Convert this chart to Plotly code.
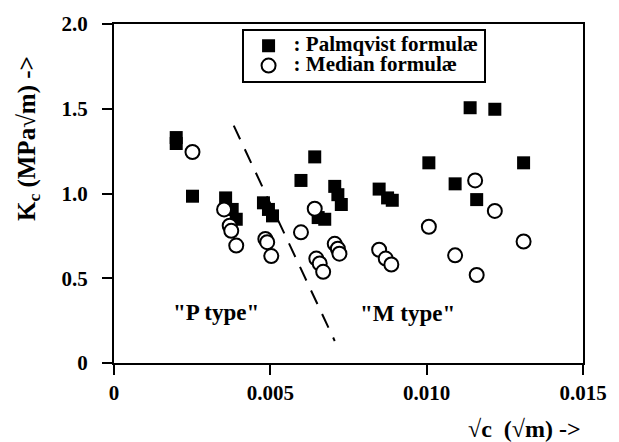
import plotly.graph_objects as go

# Palmqvist formulae (filled squares)
palm_x = [0.00199, 0.00199, 0.00251, 0.00357, 0.00378, 0.00391, 0.00478, 0.00494, 0.00507,
          0.00598, 0.00642, 0.00653, 0.00674, 0.00706, 0.00716, 0.00727, 0.00848, 0.00875,
          0.00890, 0.01007, 0.01091, 0.01139, 0.01160, 0.01218, 0.01310]
palm_y = [1.330, 1.295, 0.984, 0.974, 0.906, 0.848, 0.945, 0.906, 0.868,
          1.077, 1.216, 0.858, 0.848, 1.042, 0.993, 0.935, 1.026, 0.974,
          0.960, 1.181, 1.057, 1.506, 0.964, 1.497, 1.181]

# Median formulae (open circles)
med_x = [0.00251, 0.00352, 0.00370, 0.00375, 0.00391, 0.00484, 0.00490, 0.00503,
         0.00598, 0.00642, 0.00647, 0.00658, 0.00669, 0.00706, 0.00716, 0.00721,
         0.00848, 0.00869, 0.00887, 0.01007, 0.01091, 0.01155, 0.01160, 0.01218, 0.01310]
med_y = [1.245, 0.906, 0.810, 0.780, 0.693, 0.732, 0.713, 0.631,
         0.771, 0.910, 0.616, 0.587, 0.538, 0.703, 0.674, 0.645,
         0.668, 0.616, 0.581, 0.804, 0.635, 1.077, 0.519, 0.897, 0.717]

# Dividing dashed line
div_x = [0.00383, 0.00706]
div_y = [1.40, 0.13]

x_ticks = [0, 0.005, 0.010, 0.015]
x_tick_labels = ["0", "0.005", "0.010", "0.015"]
y_ticks = [0, 0.5, 1.0, 1.5, 2.0]
y_tick_labels = ["0", "0.5", "1.0", "1.5", "2.0"]

legend_names = [": Palmqvist formulæ", ": Median formulæ"]

FONT = "Liberation Serif"
LEG = "<span style='font-size:21px'>{}</span>"

fig = go.Figure()
fig.add_trace(go.Scatter(
    x=div_x, y=div_y, mode="lines", showlegend=False,
    line=dict(color="black", width=2, dash="15px,11px"), hoverinfo="skip"))
fig.add_trace(go.Scatter(
    x=palm_x, y=palm_y, mode="markers", name=LEG.format(legend_names[0]),
    marker=dict(symbol="square", size=13, color="black", line=dict(width=0))))
fig.add_trace(go.Scatter(
    x=med_x, y=med_y, mode="markers", name=LEG.format(legend_names[1]),
    marker=dict(symbol="circle", size=14, color="white", line=dict(color="black", width=2))))

axis_common = dict(
    showgrid=False, zeroline=False, showline=True, linecolor="black", linewidth=2,
    mirror=True, ticks="outside", ticklen=10, tickwidth=2, tickcolor="black",
    tickfont=dict(family=FONT, size=21, color="black", weight="bold"),
)
fig.update_xaxes(range=[0, 0.015], tickvals=x_ticks, ticktext=x_tick_labels, **axis_common)
fig.update_yaxes(range=[0, 2.0], tickvals=y_ticks, ticktext=y_tick_labels,
                 ticklabelstandoff=10, **axis_common)

fig.add_annotation(x=0.00327, y=0.30, text="\"P type\"", showarrow=False,
                   font=dict(family=FONT, size=23, color="black", weight="bold"))
fig.add_annotation(x=0.00938, y=0.29, text="\"M type\"", showarrow=False,
                   font=dict(family=FONT, size=23, color="black", weight="bold"))

fig.add_annotation(xref="paper", yref="paper", x=-0.181, y=0.661,
                   xanchor="center", yanchor="middle",
                   text="K<sub>c</sub> (MPa√m) ->", textangle=-90, showarrow=False,
                   font=dict(family=FONT, size=25, color="black", weight="bold"))
fig.add_annotation(xref="paper", yref="paper", x=1.0, y=-0.194,
                   xanchor="right", yanchor="middle",
                   text="√c  (√m) ->", showarrow=False,
                   font=dict(family=FONT, size=24, color="black", weight="bold"))

fig.update_layout(
    width=619, height=442,
    margin=dict(l=114, r=31, t=18, b=79),
    plot_bgcolor="white", paper_bgcolor="white",
    legend=dict(x=0.272, y=0.986, xanchor="left", yanchor="top",
                bordercolor="black", borderwidth=2, bgcolor="white",
                font=dict(family=FONT, size=13, color="black", weight="bold"),
                itemwidth=40, tracegroupgap=0),
)

fig.write_html("out.html")
